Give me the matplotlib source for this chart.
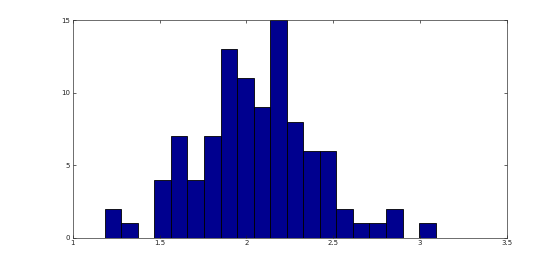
import numpy as np
import matplotlib
matplotlib.use("Agg")
import matplotlib.pyplot as plt

# histogram: 20 equal bins between these limits
bin_lo, bin_hi = 1.184, 3.09
counts = [2, 1, 0, 4, 7, 4, 7, 13, 11, 9, 15, 8, 6, 6, 2, 1, 1, 2, 0, 1]
xticks = [1, 1.5, 2, 2.5, 3, 3.5]
yticks = [0, 5, 10, 15]

edges = np.linspace(bin_lo, bin_hi, len(counts) + 1)

fig = plt.figure(figsize=(5.6, 2.67), dpi=100)
ax = fig.add_axes([0.130, 0.110, 0.775, 0.814])
ax.bar(edges[:-1], counts, width=np.diff(edges), align="edge",
       color=(0, 0, 0.5625), edgecolor="black", linewidth=0.6)
ax.set_xlim(1, 3.5)
ax.set_ylim(0, 15)
ax.set_xticks(xticks)
ax.set_xticklabels([f"{t:g}" for t in xticks])
ax.set_yticks(yticks)
ax.tick_params(direction="in", length=2.5, width=0.5, labelsize=5,
               top=True, right=True, pad=2, colors="#222222")
for sp in ax.spines.values():
    sp.set_linewidth(0.5)
    sp.set_color("#333333")
fig.savefig("out.png", dpi=100)
